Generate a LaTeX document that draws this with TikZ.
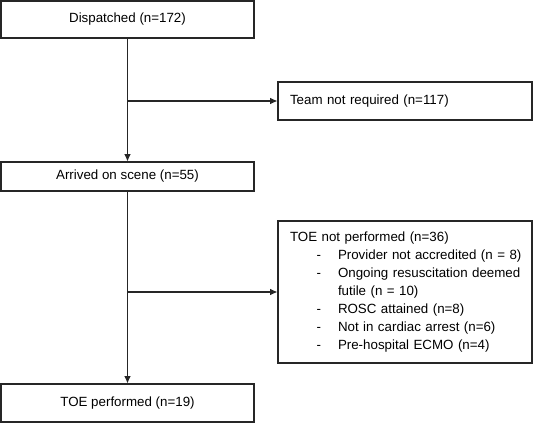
\documentclass[tikz,border=0pt]{standalone}
\usepackage{fontspec}
\setmainfont{Liberation Sans}
\usepackage{tikz}
\usetikzlibrary{arrows.meta,positioning,calc}

\begin{document}
\begin{tikzpicture}[
  x=0.75pt, y=-0.75pt,
  font=\fontsize{10}{12}\selectfont,
  stage/.style={rectangle, draw=black!85, line width=0.8pt, minimum width=189.75pt,
                inner sep=0pt, align=center},
  excl/.style={rectangle, draw=black!85, line width=0.8pt, text width=172.5pt,
               inner xsep=9pt, inner ysep=0pt, align=left},
  flow/.style={draw=black!85, line width=0.8pt, -{Latex[length=5.5pt,width=5pt]}},
]
\useasboundingbox (0,0) rectangle (533,424);

% --- main stages ---
\node[stage, minimum height=27.75pt] (disp) at (127.5,19.5)  {Dispatched (n=172)};
\node[stage, minimum height=21.75pt] (scene) at (127.5,176.5) {Arrived on scene (n=55)};
\node[stage, minimum height=28.5pt]  (toe) at (127.5,403)     {TOE performed (n=19)};

% --- exclusions ---
\node[excl, minimum height=28.5pt] (notreq) at (405,101) {Team not required (n=117)};
\node[excl, minimum height=106.5pt] (notoe) at (405,292) {%
  \renewcommand{\arraystretch}{1.12}%
  \begin{tabular}{@{}p{36pt}@{}l@{}}
    \multicolumn{2}{@{}l@{}}{TOE not performed (n=36)}\\
    \hspace*{20pt}- & Provider not accredited (n = 8)\\
    \hspace*{20pt}- & Ongoing resuscitation deemed\\
                    & futile (n = 10)\\
    \hspace*{20pt}- & ROSC attained (n=8)\\
    \hspace*{20pt}- & Not in cardiac arrest (n=6)\\
    \hspace*{20pt}- & Pre-hospital ECMO (n=4)
  \end{tabular}};

% --- connectors ---
\draw[flow] (disp) -- (scene);
\draw[flow] (scene) -- (toe);
\draw[flow] (disp.south |- notreq.west) -- (notreq.west);
\draw[flow] (scene.south |- notoe.west) -- (notoe.west);

\end{tikzpicture}
\end{document}
